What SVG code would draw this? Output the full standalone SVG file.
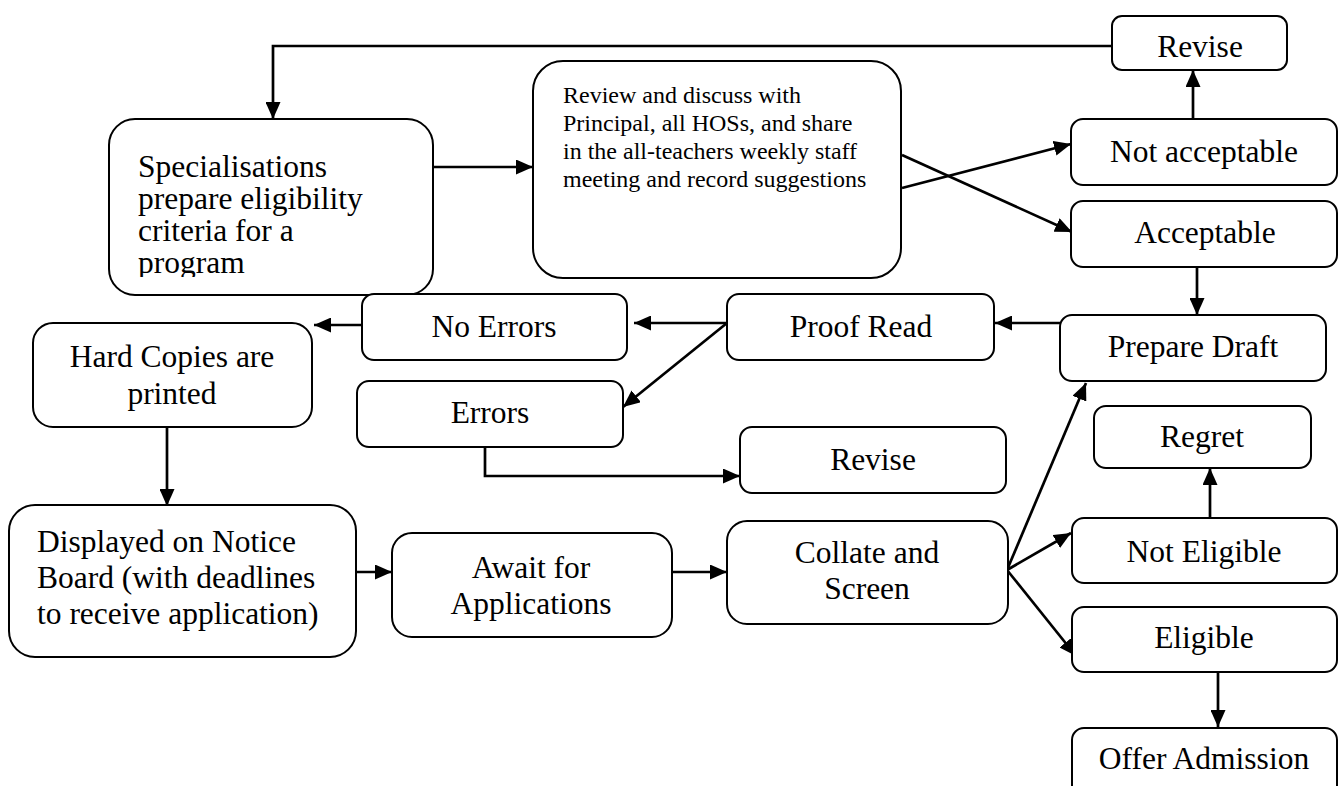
<svg xmlns="http://www.w3.org/2000/svg" width="1343" height="786" viewBox="0 0 1343 786">
<style>
.box{fill:#fff;stroke:#000;stroke-width:2}
.t{font-family:"Liberation Serif","Times New Roman",serif;font-size:31.5px;fill:#000}
.c{text-anchor:middle}
.s{font-size:24px}
.ln{fill:none;stroke:#000;stroke-width:2.7}
</style>
<defs>
<marker id="ah" markerUnits="userSpaceOnUse" markerWidth="17" markerHeight="15" viewBox="0 0 17 15" refX="17" refY="7.5" orient="auto">
<path d="M0,0 L17,7.5 L0,15 z" fill="#000"/>
</marker>
<clipPath id="spclip"><rect x="100" y="110" width="340" height="167"/></clipPath>
</defs>
<rect width="1343" height="786" fill="#fff"/>
<g id="connectors">
<path class="ln" d="M1112,46 H273 V119" marker-end="url(#ah)"/>
<path class="ln" d="M434,167 H533" marker-end="url(#ah)"/>
<path class="ln" d="M902,155 L1072,232" marker-end="url(#ah)"/>
<path class="ln" d="M902,188 L1071,144" marker-end="url(#ah)"/>
<path class="ln" d="M1193,119 V70" marker-end="url(#ah)"/>
<path class="ln" d="M1197,267 V315" marker-end="url(#ah)"/>
<path class="ln" d="M1060,323 H995" marker-end="url(#ah)"/>
<path class="ln" d="M727,323 H634" marker-end="url(#ah)"/>
<path class="ln" d="M727,323 L623,407" marker-end="url(#ah)"/>
<path class="ln" d="M362,325 H314" marker-end="url(#ah)"/>
<path class="ln" d="M485,447 V476 H740" marker-end="url(#ah)"/>
<path class="ln" d="M167,427 V506" marker-end="url(#ah)"/>
<path class="ln" d="M356,572 H392" marker-end="url(#ah)"/>
<path class="ln" d="M672,572 H727" marker-end="url(#ah)"/>
<path class="ln" d="M1007,570 L1086,383" marker-end="url(#ah)"/>
<path class="ln" d="M1007,570 L1071,533" marker-end="url(#ah)"/>
<path class="ln" d="M1007,570 L1076,656" marker-end="url(#ah)"/>
<path class="ln" d="M1210,518 V468" marker-end="url(#ah)"/>
<path class="ln" d="M1218,672 V727" marker-end="url(#ah)"/>
</g>
<g id="n-revise-top"><rect class="box" x="1112" y="16" width="175" height="54" rx="10"/><text class="t c" x="1200" y="57">Revise</text></g>
<g id="n-specialisations"><rect class="box" x="109" y="119" width="324" height="176" rx="26"/>
<g clip-path="url(#spclip)"><text class="t" x="138" y="177">Specialisations</text><text class="t" x="138" y="209">prepare eligibility</text><text class="t" x="138" y="241">criteria for a</text><text class="t" x="138" y="273">program</text></g></g>
<g id="n-review"><rect class="box" x="533" y="61" width="368" height="217" rx="30"/>
<text class="t s" x="563" y="103">Review and discuss with</text><text class="t s" x="563" y="131">Principal, all HOSs, and share</text><text class="t s" x="563" y="159">in the all-teachers weekly staff</text><text class="t s" x="563" y="187">meeting and record suggestions</text></g>
<g id="n-notacceptable"><rect class="box" x="1071" y="119" width="266" height="66" rx="12"/><text class="t c" x="1204" y="162">Not acceptable</text></g>
<g id="n-acceptable"><rect class="box" x="1071" y="201" width="266" height="66" rx="12"/><text class="t c" x="1205" y="243">Acceptable</text></g>
<g id="n-preparedraft"><rect class="box" x="1060" y="315" width="266" height="66" rx="12"/><text class="t c" x="1193" y="357">Prepare Draft</text></g>
<g id="n-proofread"><rect class="box" x="727" y="294" width="267" height="66" rx="12"/><text class="t c" x="861" y="337">Proof Read</text></g>
<g id="n-noerrors"><rect class="box" x="362" y="294" width="265" height="66" rx="12"/><text class="t c" x="494" y="337">No Errors</text></g>
<g id="n-errors"><rect class="box" x="357" y="381" width="266" height="66" rx="12"/><text class="t c" x="490" y="423">Errors</text></g>
<g id="n-revise-low"><rect class="box" x="740" y="427" width="266" height="66" rx="12"/><text class="t c" x="873" y="470">Revise</text></g>
<g id="n-hardcopies"><rect class="box" x="33" y="323" width="279" height="104" rx="20"/><text class="t c" x="172" y="367">Hard Copies are</text><text class="t c" x="172" y="404">printed</text></g>
<g id="n-regret"><rect class="box" x="1094" y="406" width="217" height="62" rx="12"/><text class="t c" x="1202" y="447">Regret</text></g>
<g id="n-displayed"><rect class="box" x="9" y="505" width="347" height="152" rx="26"/><text class="t" x="37" y="552">Displayed on Notice</text><text class="t" x="37" y="588">Board (with deadlines</text><text class="t" x="37" y="624">to receive application)</text></g>
<g id="n-await"><rect class="box" x="392" y="533" width="280" height="104" rx="20"/><text class="t c" x="531" y="578">Await for</text><text class="t c" x="531" y="614">Applications</text></g>
<g id="n-collate"><rect class="box" x="727" y="521" width="281" height="103" rx="20"/><text class="t c" x="867" y="563">Collate and</text><text class="t c" x="867" y="599">Screen</text></g>
<g id="n-noteligible"><rect class="box" x="1072" y="518" width="265" height="65" rx="12"/><text class="t c" x="1204" y="562">Not Eligible</text></g>
<g id="n-eligible"><rect class="box" x="1072" y="607" width="265" height="65" rx="12"/><text class="t c" x="1204" y="648">Eligible</text></g>
<g id="n-offer"><rect class="box" x="1072" y="728" width="265" height="80" rx="12"/><text class="t c" x="1204" y="769">Offer Admission</text></g>
</svg>
